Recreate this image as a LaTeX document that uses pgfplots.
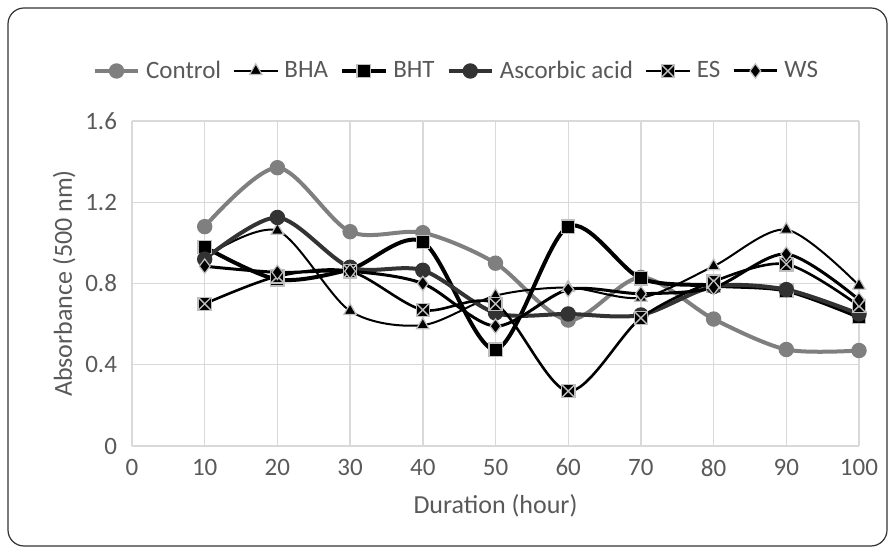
\documentclass[border=0pt]{standalone}
\usepackage{pgfplots}
\pgfplotsset{compat=1.18}
\usepackage{fontspec}
\setmainfont{Carlito}
\definecolor{txt}{HTML}{595959}
\definecolor{gridc}{HTML}{D9D9D9}
\definecolor{ctrl}{HTML}{7F7F7F}
\definecolor{asc}{HTML}{333333}
\definecolor{medge}{HTML}{BFBFBF}
\pgfdeclareplotmark{boxx}{%
  \pgfpathrectangle{\pgfqpoint{-\pgfplotmarksize}{-\pgfplotmarksize}}{\pgfqpoint{2\pgfplotmarksize}{2\pgfplotmarksize}}%
  \pgfusepathqfillstroke
  \pgfpathmoveto{\pgfqpoint{-\pgfplotmarksize}{-\pgfplotmarksize}}\pgfpathlineto{\pgfqpoint{\pgfplotmarksize}{\pgfplotmarksize}}%
  \pgfpathmoveto{\pgfqpoint{-\pgfplotmarksize}{\pgfplotmarksize}}\pgfpathlineto{\pgfqpoint{\pgfplotmarksize}{-\pgfplotmarksize}}%
  \pgfusepathqstroke
}
\begin{document}
\begin{tikzpicture}
\useasboundingbox (-66pt,-55pt) rectangle (381.5pt,223pt);
\draw[black!80, line width=0.6pt, rounded corners=8pt] (-62pt,-50pt) rectangle (377.5pt,219pt);
\begin{axis}[
  at={(0,0)}, anchor=south west,
  scale only axis, width=363.5pt, height=162.5pt,
  xmin=0, xmax=100, ymin=0, ymax=1.6,
  xtick={0,10,...,100},
  ytick={0,0.4,0.8,1.2,1.6},
  yticklabels={0,0.4,0.8,1.2,1.6},
  grid=major,
  major grid style={gridc, line width=0.7pt},
  axis line style={draw=none},
  tick style={draw=none},
  ticklabel style={font=\fontsize{12.5}{14}\selectfont, text=txt},
  xticklabel style={yshift=-3pt},
  yticklabel style={xshift=-4pt},
  /pgf/number format/assume math mode=true,
  xlabel={Duration (hour)},
  ylabel={Absorbance (500 nm)},
  label style={font=\fontsize{13}{15}\selectfont, text=txt},
  xlabel style={yshift=-2pt},
  ylabel style={yshift=-2pt},
  legend columns=6,
  legend style={at={(0.5,1)}, anchor=center, xshift=-19pt, yshift=25pt, draw=none, fill=none,
    font=\fontsize{12.5}{14}\selectfont, text=txt,
    /tikz/every odd column/.append style={column sep=1pt},
    /tikz/every even column/.append style={column sep=4pt}},
  legend image code/.code={%
    \draw[#1, mark repeat=2, mark phase=2] plot coordinates {(0cm,0cm) (0.38cm,0cm) (0.76cm,0cm)};},
  every axis plot/.append style={smooth, tension=0.5},
]
\addplot[ctrl, line width=2pt, mark=*, mark size=3.6pt, mark options={fill=ctrl, draw=ctrl, line width=0.5pt}]
  coordinates {(10,1.08) (20,1.37) (30,1.055) (40,1.05) (50,0.90) (60,0.62) (70,0.83) (80,0.625) (90,0.475) (100,0.47)};
\addlegendentry{Control}
\addplot[black, line width=1pt, mark=triangle*, mark size=3.6pt, mark options={fill=black, draw=medge, line width=0.6pt}]
  coordinates {(10,0.93) (20,1.06) (30,0.665) (40,0.595) (50,0.74) (60,0.78) (70,0.73) (80,0.885) (90,1.065) (100,0.79)};
\addlegendentry{BHA}
\addplot[black, line width=2pt, mark=square*, mark size=3.3pt, mark options={fill=black, draw=medge, line width=0.6pt}]
  coordinates {(10,0.98) (20,0.82) (30,0.87) (40,1.005) (50,0.475) (60,1.08) (70,0.825) (80,0.79) (90,0.765) (100,0.635)};
\addlegendentry{BHT}
\addplot[asc, line width=2pt, mark=*, mark size=3.6pt, mark options={fill=asc, draw=asc, line width=0.5pt}]
  coordinates {(10,0.92) (20,1.125) (30,0.88) (40,0.865) (50,0.655) (60,0.65) (70,0.645) (80,0.785) (90,0.77) (100,0.65)};
\addlegendentry{Ascorbic acid}
\addplot[black, line width=1.3pt, mark=boxx, mark size=3.3pt, mark options={fill=black, draw=medge, line width=0.7pt}]
  coordinates {(10,0.70) (20,0.835) (30,0.86) (40,0.67) (50,0.70) (60,0.27) (70,0.63) (80,0.81) (90,0.895) (100,0.69)};
\addlegendentry{ES}
\addplot[black, line width=1.5pt, mark=diamond*, mark size=3.6pt, mark options={fill=black, draw=medge, line width=0.6pt}]
  coordinates {(10,0.885) (20,0.855) (30,0.86) (40,0.80) (50,0.59) (60,0.77) (70,0.75) (80,0.78) (90,0.945) (100,0.72)};
\addlegendentry{WS}
\end{axis}
\end{tikzpicture}
\end{document}
